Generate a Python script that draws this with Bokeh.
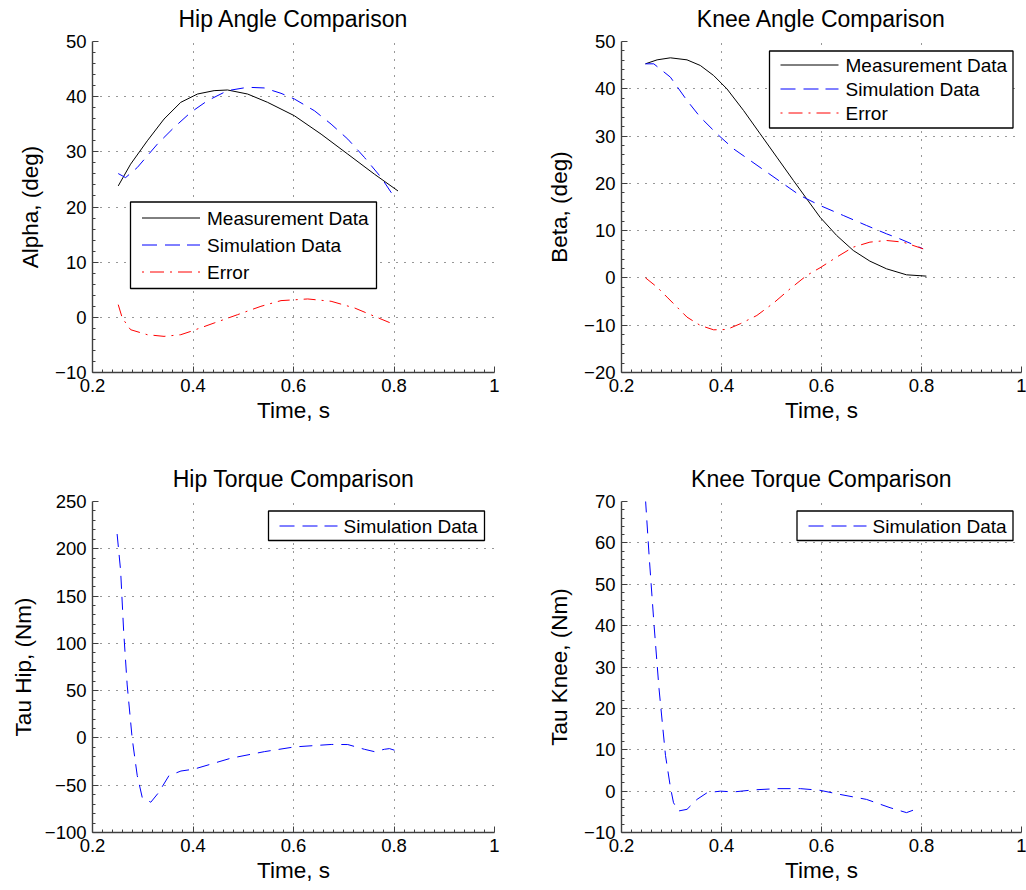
import numpy as np
from bokeh.plotting import figure
from bokeh.layouts import gridplot
from bokeh.models import Range1d, FixedTicker, CustomJSTickFormatter, LinearAxis
from bokeh.core.properties import value
from bokeh.embed import file_html
from bokeh.resources import INLINE

FONT = "Liberation Sans"

# ---------------- data ----------------
# Hip angle
hip_meas_t = [0.2512, 0.2758, 0.3091, 0.3423, 0.3756, 0.4089, 0.4420, 0.4687, 0.5086, 0.5485,
              0.6016, 0.6549, 0.7081, 0.7612, 0.8079]
hip_meas_v = [23.82, 27.76, 32.0, 35.94, 38.97, 40.48, 41.09, 41.21, 40.48, 38.97,
              36.55, 33.21, 29.58, 25.94, 22.91]
hip_sim_t = [0.2512, 0.2658, 0.2891, 0.3290, 0.3623, 0.3955, 0.4288, 0.4687, 0.5086, 0.5418,
             0.5751, 0.6017, 0.6416, 0.6748, 0.7081, 0.7413, 0.7746, 0.8012]
hip_sim_v = [26.06, 25.33, 27.15, 31.39, 34.42, 37.15, 39.27, 41.09, 41.70, 41.58,
             40.61, 39.58, 37.45, 35.03, 32.30, 28.97, 25.33, 21.70]
hip_err_t = [0.2512, 0.2592, 0.2758, 0.3091, 0.3423, 0.3756, 0.3955, 0.4420, 0.4886, 0.5352,
             0.5751, 0.6283, 0.6748, 0.7214, 0.7613, 0.8012]
hip_err_v = [2.30, -0.12, -2.24, -3.15, -3.45, -3.15, -2.55, -1.03, 0.48, 2.0,
             3.03, 3.33, 2.91, 1.70, 0.18, -1.33]

# Knee angle
knee_meas_t = [0.2479, 0.2712, 0.2978, 0.3310, 0.3576, 0.3842, 0.4108, 0.4441, 0.4773, 0.5106,
               0.5438, 0.5704, 0.5970, 0.6303, 0.6635, 0.6968, 0.7300, 0.7699, 0.8098]
knee_meas_v = [45.28, 46.12, 46.55, 46.12, 44.93, 42.81, 39.99, 35.41, 30.48, 25.54,
               20.61, 16.73, 12.85, 8.98, 5.81, 3.55, 1.93, 0.66, 0.38]
knee_sim_t = [0.2479, 0.2645, 0.2978, 0.3310, 0.3576, 0.3909, 0.4241, 0.4574, 0.4906, 0.5239,
              0.5571, 0.5970, 0.6436, 0.6901, 0.7300, 0.7566, 0.8032]
knee_sim_v = [45.28, 45.28, 42.46, 37.52, 34.0, 30.48, 27.30, 24.84, 22.37, 19.90,
              17.44, 15.32, 13.21, 11.09, 9.33, 8.27, 6.16]
knee_err_t = [0.2479, 0.2712, 0.2911, 0.3111, 0.3310, 0.3576, 0.3842, 0.4108, 0.4374, 0.4707,
              0.5039, 0.5372, 0.5704, 0.5970, 0.6303, 0.6635, 0.6968, 0.7300, 0.7633, 0.8032]
knee_err_v = [0.03, -1.95, -4.06, -6.18, -8.29, -10.05, -10.97, -10.90, -9.70, -7.94,
              -5.33, -2.30, 0.52, 2.14, 4.40, 6.51, 7.57, 7.92, 7.57, 6.16]

# Hip torque
hip_tau_t = [0.249, 0.256, 0.262, 0.269, 0.279, 0.289, 0.299, 0.316, 0.332, 0.352, 0.376, 0.402,
             0.475, 0.542, 0.602, 0.675, 0.708, 0.741, 0.761, 0.781, 0.791, 0.801]
hip_tau_v = [215.6, 176.6, 112.8, 56.0, -0.7, -39.7, -63.0, -68.0, -57.5, -40.0, -35.0, -33.0,
             -21.5, -14.5, -9.5, -6.9, -7.0, -12.0, -14.5, -12.0, -11.3, -13.0]

# Knee torque
knee_tau_t = [0.248, 0.255, 0.265, 0.275, 0.288, 0.298, 0.304, 0.314, 0.331, 0.351, 0.371, 0.398,
              0.424, 0.464, 0.511, 0.558, 0.597, 0.637, 0.690, 0.737, 0.770, 0.797]
knee_tau_v = [70.5, 57.3, 40.3, 24.8, 8.6, 0.8, -2.8, -4.8, -4.4, -2.0, -0.4, 0.0,
              -0.2, 0.3, 0.6, 0.6, 0.2, -0.8, -2.0, -4.0, -5.2, -4.0]

x_ticks = [0.2, 0.4, 0.6, 0.8, 1.0]
hip_angle_ticks = [-10, 0, 10, 20, 30, 40, 50]
knee_angle_ticks = [-20, -10, 0, 10, 20, 30, 40, 50]
hip_tau_ticks = [-100, -50, 0, 50, 100, 150, 200, 250]
knee_tau_ticks = [-10, 0, 10, 20, 30, 40, 50, 60, 70]

legend_labels_3 = ["Measurement Data", "Simulation Data", "Error"]
legend_labels_1 = ["Simulation Data"]

# ---------------- styling ----------------
FMT = CustomJSTickFormatter(code="""
    if (Math.abs(tick) < 1e-9) return "0";
    var s = String(Math.round(Math.abs(tick) * 1000) / 1000);
    return tick < 0 ? "\\u2212" + s : s;
""")

MEAS = dict(line_color="black", line_width=1)
SIM = dict(line_color="blue", line_width=1, line_dash="13 8")
ERR = dict(line_color="red", line_width=1, line_dash="12 6 2 6")

# legend sample strokes (pixel pieces along a 58 px sample)
SAMPLE = {
    "black": [(0, 58)],
    "blue": [(0, 15), (23, 38), (45, 58)],
    "red": [(0, 2), (8, 22), (28, 30), (36, 50), (56, 58)],
}

FRAME_H = 331


def minor(ticks, n):
    out = []
    for a, b in zip(ticks[:-1], ticks[1:]):
        out.extend(list(np.linspace(a, b, n + 1)[1:-1]))
    return out


def style_axis(ax):
    ax.formatter = FMT
    ax.axis_line_color = "#404040"
    ax.axis_line_width = 1.4
    ax.major_tick_in = 6
    ax.major_tick_out = 0
    ax.minor_tick_in = 3
    ax.minor_tick_out = 0
    ax.major_tick_line_color = "#404040"
    ax.minor_tick_line_color = "#404040"
    ax.major_label_text_font = FONT
    ax.major_label_text_font_size = "18.5px"
    ax.major_label_text_color = "black"
    ax.axis_label_text_font = FONT
    ax.axis_label_text_font_size = "22.5px"
    ax.axis_label_text_font_style = "normal"
    ax.axis_label_text_color = "black"


def make_fig(title, xlabel, ylabel, yticks, left, right, top, bottom, fw, ylab_standoff):
    p = figure(frame_width=fw, frame_height=FRAME_H,
               x_range=Range1d(x_ticks[0], x_ticks[-1]),
               y_range=Range1d(yticks[0], yticks[-1]),
               output_backend="svg", toolbar_location=None,
               min_border_left=left, min_border_right=right,
               min_border_top=top, min_border_bottom=bottom,
               background_fill_color="white", border_fill_color="white")
    p.outline_line_color = None
    # pixel-unit ranges used only for the legend
    p.extra_x_ranges = {"px": Range1d(0, fw)}
    p.extra_y_ranges = {"py": Range1d(0, FRAME_H)}

    xt = FixedTicker(ticks=x_ticks, minor_ticks=minor(x_ticks, 10))
    yt = FixedTicker(ticks=yticks, minor_ticks=minor(yticks, 5))
    xax = p.xaxis[0]
    yax = p.yaxis[0]
    xax.ticker = xt
    yax.ticker = yt
    style_axis(xax)
    style_axis(yax)
    xax.axis_label = xlabel
    yax.axis_label = ylabel
    xax.major_label_standoff = 6
    xax.axis_label_standoff = 3
    yax.major_label_standoff = 6
    yax.axis_label_standoff = ylab_standoff

    for g in (p.xgrid[0], p.ygrid[0]):
        g.grid_line_color = "#303030"
        g.grid_line_dash = "1 7"
        g.grid_line_width = 1
    p.xgrid[0].ticker = xt
    p.ygrid[0].ticker = yt

    # title: label of a bare axis placed above the frame
    tax = LinearAxis(ticker=FixedTicker(ticks=[]), axis_label=title,
                     axis_line_color=None, major_tick_line_color=None,
                     minor_tick_line_color=None, major_tick_in=0, major_tick_out=0,
                     minor_tick_in=0, minor_tick_out=0, major_label_standoff=0,
                     major_label_text_font_size="0px", axis_label_standoff=10,
                     axis_label_text_font=FONT, axis_label_text_font_size="23px",
                     axis_label_text_font_style="normal", axis_label_text_color="black")
    p.add_layout(tax, "above")
    return p


def add_legend(p, labels, colors, box, rows, sample_x, text_x):
    """box=(left, right, bottom, top) in frame pixels; rows = y of each entry."""
    l, r, b, t = box
    p.quad(left=[l], right=[r], bottom=[b], top=[t], x_range_name="px", y_range_name="py",
           fill_color="white", line_color="black", line_width=1.3)
    for col, y in zip(colors, rows):
        pieces = SAMPLE[col]
        p.segment(x0=[sample_x + a for a, _ in pieces], y0=[y] * len(pieces),
                  x1=[sample_x + e for _, e in pieces], y1=[y] * len(pieces),
                  x_range_name="px", y_range_name="py",
                  line_color=col, line_width=1, line_cap="butt")
    p.text(x=[text_x] * len(labels), y=rows, text=labels,
           x_range_name="px", y_range_name="py",
           text_font=value(FONT), text_font_size=value("19px"), text_color="black",
           text_align="left", text_baseline="middle")


# ---------------- Hip angle ----------------
p1 = make_fig("Hip Angle Comparison", "Time, s", "Alpha, (deg)", hip_angle_ticks,
              92, 19, 41, 73, 402, 9)
p1.line(hip_meas_t, hip_meas_v, **MEAS)
p1.line(hip_sim_t, hip_sim_v, **SIM)
p1.line(hip_err_t, hip_err_v, **ERR)
add_legend(p1, legend_labels_3, ["black", "blue", "red"],
           (38, 284, 84, 170.5), [154.5, 127.5, 100.5], 49.5, 114.5)

# ---------------- Knee angle ----------------
p2 = make_fig("Knee Angle Comparison", "Time, s", "Beta, (deg)", knee_angle_ticks,
              108, 5, 41, 73, 400, 9)
p2.line(knee_meas_t, knee_meas_v, **MEAS)
p2.line(knee_sim_t, knee_sim_v, **SIM)
p2.line(knee_err_t, knee_err_v, **ERR)
add_legend(p2, legend_labels_3, ["black", "blue", "red"],
           (148, 391.5, 244.5, 321.5), [307.5, 283.5, 259.5], 159, 224)

# ---------------- Hip torque ----------------
p3 = make_fig("Hip Torque Comparison", "Time, s", "Tau Hip, (Nm)", hip_tau_ticks,
              92, 19, 56, 58, 402, 6)
p3.line(hip_tau_t, hip_tau_v, **SIM)
add_legend(p3, legend_labels_1, ["blue"], (176, 392, 292, 321.5), [306.5], 187, 251)

# ---------------- Knee torque ----------------
p4 = make_fig("Knee Torque Comparison", "Time, s", "Tau Knee, (Nm)", knee_tau_ticks,
              108, 5, 56, 58, 400, 9)
p4.line(knee_tau_t, knee_tau_v, **SIM)
add_legend(p4, legend_labels_1, ["blue"], (175.5, 391.5, 292, 321.5), [306.5], 187, 251)

grid = gridplot([[p1, p2], [p3, p4]], toolbar_location=None)

open("out.html", "w").write(file_html(grid, INLINE))
